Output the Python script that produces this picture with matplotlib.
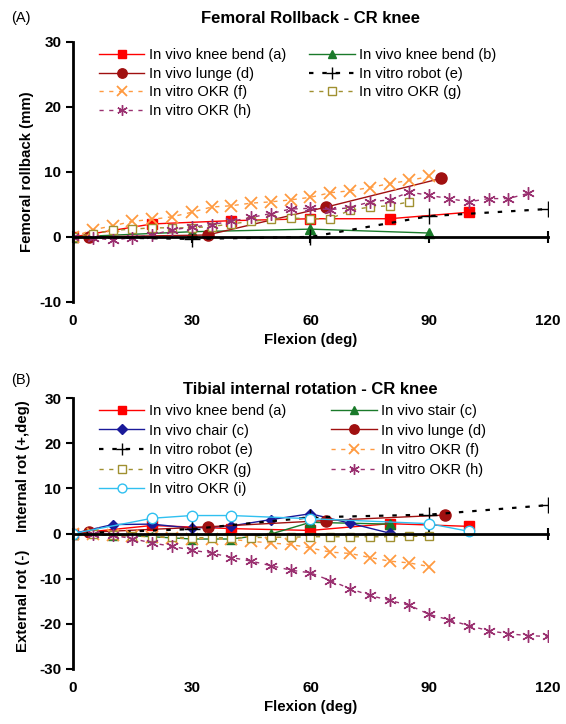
import matplotlib.pyplot as plt

# ---- (A) femoral rollback, mm ----
fa_x = [0, 20, 40, 60, 80, 100]
fa_y = [0, 2.0, 2.5, 2.8, 2.8, 3.8]
fb_x = [0, 30, 60, 90]
fb_y = [0, 0.8, 1.2, 0.6]
fd_x = [4, 34, 64, 93]
fd_y = [0, 0.3, 4.6, 9.0]
fe_x = [0, 30, 60, 90, 120]
fe_y = [0, -0.3, 0, 3.2, 4.3]
ff_x = list(range(0, 91, 5))
ff_y = [0, 1.1, 1.7, 2.4, 2.7, 3.1, 3.8, 4.6, 4.8, 5.2, 5.4, 5.7, 6.1, 6.8, 7.1, 7.6, 8.2, 8.7, 9.3]
fg_x = list(range(0, 86, 5))
fg_y = [0, 0.5, 1.0, 1.2, 1.4, 1.4, 1.4, 1.6, 2.0, 2.4, 2.7, 2.9, 2.8, 2.8, 4.1, 4.6, 4.8, 5.4]
fh_x = list(range(0, 116, 5))
fh_y = [0, -0.1, -0.5, -0.1, 0.3, 1.1, 1.5, 1.9, 2.4, 3.0, 3.6, 4.3, 4.4, 4.2, 4.5, 5.4,
        5.7, 6.9, 6.4, 5.9, 5.4, 5.9, 5.9, 6.7]

# ---- (B) tibial internal rotation, deg ----
ta_x = [0, 20, 40, 60, 80, 100]
ta_y = [0, 1.8, 1.1, 0.7, 2.2, 1.6]
tstair_x = [0, 10, 20, 30, 40, 50, 60, 80]
tstair_y = [0, -0.3, -0.7, -1.2, -1.2, -0.1, 2.5, 2.1]
tchair_x = [0, 10, 20, 30, 40, 50, 60, 70, 80]
tchair_y = [0, 2.0, 2.1, 1.2, 1.7, 3.1, 4.4, 2.3, 0.1]
td_x = [4, 34, 64, 94]
td_y = [0.3, 1.5, 2.9, 4.1]
te_x = [0, 30, 60, 90, 120]
te_y = [0, 1.0, 3.6, 4.2, 6.3]
tf_x = list(range(0, 91, 5))
tf_y = [0, 0, -0.4, -0.6, -0.7, -0.9, -1.1, -1.1, -1.3, -1.7, -2.1, -2.4, -3.2, -4.1,
        -4.4, -5.3, -6.1, -6.5, -7.3]
tg_x = list(range(0, 91, 5))
tg_y = [0, -0.2, -0.4, -0.5, -0.7, -0.8, -0.9, -0.9, -0.9, -0.9, -0.8, -0.8, -0.7, -0.7,
        -0.7, -0.7, -0.7, -0.6, -0.6]
th_x = list(range(0, 121, 5))
th_y = [0, -0.2, -0.4, -1.1, -2.1, -2.8, -3.7, -4.3, -5.3, -6.1, -7.1, -8.1, -8.7, -10.4,
        -12.2, -13.7, -14.8, -15.9, -17.9, -19.1, -20.4, -21.5, -22.2, -22.6, -22.8]
ti_x = [0, 20, 30, 40, 60, 90, 100]
ti_y = [0, 3.4, 4.0, 4.0, 3.3, 2.2, 0.5]

x_ticks = [0, 30, 60, 90, 120]

plt.rcParams['font.family'] = ['Liberation Sans', 'DejaVu Sans']
plt.rcParams['axes.unicode_minus'] = False

STAR = (6, 2, 0)
styles = {
    'a': dict(color='#ff0000', marker='s', ms=6.5, lw=1, ls='-'),
    'b': dict(color='#1a7a2a', marker='^', ms=7, lw=1, ls='-'),
    'chair': dict(color='#1a1a9a', marker='D', ms=5.5, lw=1, ls='-'),
    'd': dict(color='#a01010', marker='o', ms=8, lw=1, ls='-'),
    'e': dict(color='black', marker='+', ms=11, lw=1.6, ls=(0, (2, 4)), mew=1),
    'f': dict(color='#ff9a40', marker='x', ms=8, lw=1, ls=(0, (3, 4)), mew=1.3),
    'g': dict(color='#a09030', marker='s', ms=6, lw=1, ls=(0, (3, 4)), mfc='white', mew=1),
    'h': dict(color='#9a3070', marker=STAR, ms=9, lw=1, ls=(0, (3, 4)), mew=1),
    'i': dict(color='#30c0f0', marker='o', ms=7.5, lw=1, ls='-', mfc='white', mew=1),
}


def series(ax, x, y, key, label):
    line, = ax.plot(x, y, label=label, **styles[key])
    return line


def style_axes(ax, ymin, ymax, yticks):
    ax.set_xlim(0, 120)
    ax.set_ylim(ymin, ymax)
    ax.set_yticks(yticks)
    for s in ['top', 'right']:
        ax.spines[s].set_visible(False)
    ax.spines['left'].set_linewidth(2)
    # the x axis line crosses at zero, labels stay at the bottom
    ax.spines['bottom'].set_position(('data', 0))
    ax.spines['bottom'].set_linewidth(2)
    ax.set_xticks(x_ticks)
    ax.tick_params(axis='x', direction='inout', length=8, width=1.5, labelbottom=False)
    ax.tick_params(axis='y', direction='out', length=5, width=1.5, labelsize=11)
    for lab in ax.get_yticklabels():
        lab.set_fontweight('bold')
    sec = ax.secondary_xaxis(0.0)
    sec.set_xticks(x_ticks)
    sec.spines['bottom'].set_visible(False)
    sec.tick_params(length=0, labelsize=11, pad=9)
    for lab in sec.get_xticklabels():
        lab.set_fontweight('bold')
    sec.set_xlabel('Flexion (deg)', fontsize=10.8, fontweight='bold', labelpad=3)


def add_legend(ax, handles, colspace, spacing):
    ax.legend(handles=handles, ncol=2, loc='upper left', bbox_to_anchor=(0.043, 1.0),
              frameon=False, fontsize=10.5, handlelength=3.1, columnspacing=colspace,
              labelspacing=spacing, handletextpad=0.3, borderaxespad=0, markerscale=0.85)


fig = plt.figure(figsize=(5.66, 7.24), dpi=100)

# panel A
ax1 = fig.add_axes([0.129, 0.583, 0.839, 0.359])
la = series(ax1, fa_x, fa_y, 'a', 'In vivo knee bend (a)')
lb = series(ax1, fb_x, fb_y, 'b', 'In vivo knee bend (b)')
ld = series(ax1, fd_x, fd_y, 'd', 'In vivo lunge (d)')
le = series(ax1, fe_x, fe_y, 'e', 'In vitro robot (e)')
lf = series(ax1, ff_x, ff_y, 'f', 'In vitro OKR (f)')
lg = series(ax1, fg_x, fg_y, 'g', 'In vitro OKR (g)')
lh = series(ax1, fh_x, fh_y, 'h', 'In vitro OKR (h)')
style_axes(ax1, -10, 30, [-10, 0, 10, 20, 30])
ax1.set_ylabel('Femoral rollback (mm)', fontsize=10.8, fontweight='bold', labelpad=4)
ax1.set_title('Femoral Rollback - CR knee', fontsize=12, fontweight='bold', pad=14)
add_legend(ax1, [la, ld, lf, lh, lb, le, lg], 1.6, 0.33)
fig.text(0.02, 0.985, '(A)', fontsize=10.5, va='top')

# panel B
ax2 = fig.add_axes([0.129, 0.076, 0.839, 0.374])
ma = series(ax2, ta_x, ta_y, 'a', 'In vivo knee bend (a)')
ms = series(ax2, tstair_x, tstair_y, 'b', 'In vivo stair (c)')
mc = series(ax2, tchair_x, tchair_y, 'chair', 'In vivo chair (c)')
md = series(ax2, td_x, td_y, 'd', 'In vivo lunge (d)')
me = series(ax2, te_x, te_y, 'e', 'In vitro robot (e)')
mf = series(ax2, tf_x, tf_y, 'f', 'In vitro OKR (f)')
mg = series(ax2, tg_x, tg_y, 'g', 'In vitro OKR (g)')
mh = series(ax2, th_x, th_y, 'h', 'In vitro OKR (h)')
mi = series(ax2, ti_x, ti_y, 'i', 'In vitro OKR (i)')
style_axes(ax2, -30, 30, [-30, -20, -10, 0, 10, 20, 30])
ax2.set_title('Tibial internal rotation - CR knee', fontsize=12, fontweight='bold', pad=3)
add_legend(ax2, [ma, mc, me, mg, mi, ms, md, mf, mh], 3.1, 0.38)
ytr = ax2.get_yaxis_transform()
ax2.text(-0.105, 15, 'Internal rot (+,deg)', transform=ytr, rotation=90,
         ha='center', va='center', fontsize=10.8, fontweight='bold')
ax2.text(-0.105, -15, 'External rot (-)', transform=ytr, rotation=90,
         ha='center', va='center', fontsize=10.8, fontweight='bold')
fig.text(0.02, 0.485, '(B)', fontsize=10.5, va='top')

fig.savefig('out.png', dpi=100)
